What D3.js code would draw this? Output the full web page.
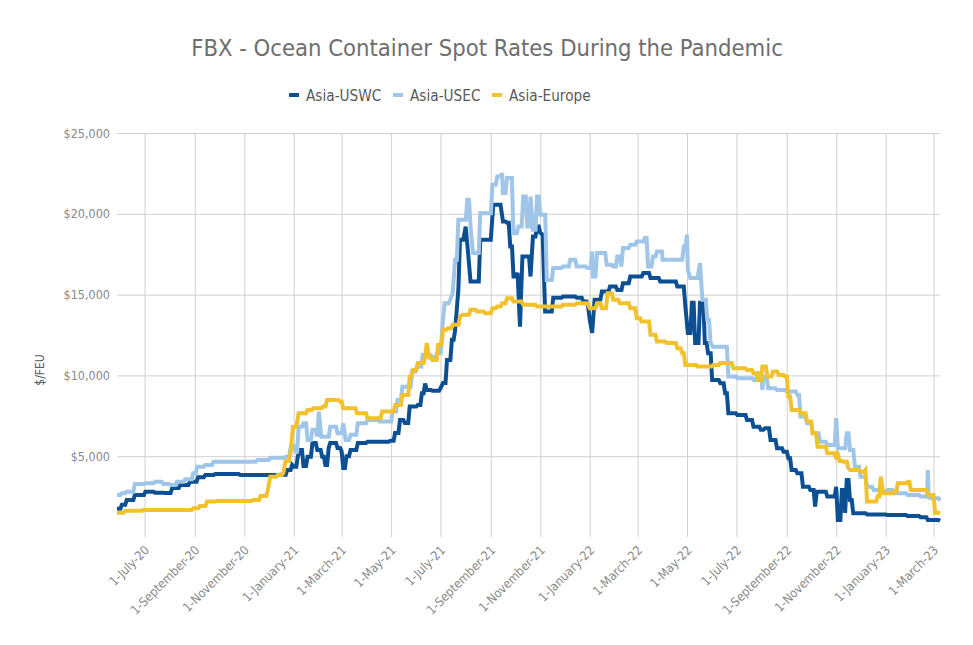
<!DOCTYPE html>
<html><head><meta charset="utf-8">
<script src="https://cdn.jsdelivr.net/npm/d3@7"></script>
<style>
body{margin:0;background:#fff;}
text{font-family:"DejaVu Sans Condensed","DejaVu Sans",sans-serif;font-stretch:condensed;}
</style></head>
<body><svg id="c" width="973" height="645"></svg>
<script>
const title = "FBX - Ocean Container Spot Rates During the Pandemic";
const seriesNames = ["Asia-USWC","Asia-USEC","Asia-Europe"];
const seriesColors = ["#0d4f93","#9fc5e8","#f2c12e"];
const yTicks = [5000,10000,15000,20000,25000];
const xTickDates = ["2020-07-01","2020-09-01","2020-11-01","2021-01-01","2021-03-01","2021-05-01","2021-07-01","2021-09-01","2021-11-01","2022-01-01","2022-03-01","2022-05-01","2022-07-01","2022-09-01","2022-11-01","2023-01-01","2023-03-01"];

const uswcDates = ["2020-05-28","2020-06-03","2020-06-09","2020-06-19","2020-07-02","2020-07-14","2020-07-26","2020-08-04","2020-08-14","2020-08-26","2020-09-05","2020-09-14","2020-09-26","2020-10-27","2020-12-15","2020-12-24","2020-12-30","2021-01-01","2021-01-06","2021-01-09","2021-01-13","2021-01-18","2021-01-24","2021-01-30","2021-02-05","2021-02-09","2021-02-13","2021-02-15","2021-02-24","2021-03-01","2021-03-03","2021-03-07","2021-03-12","2021-03-21","2021-04-02","2021-04-30","2021-05-06","2021-05-12","2021-05-18","2021-05-24","2021-06-03","2021-06-08","2021-06-12","2021-06-14","2021-06-21","2021-07-01","2021-07-04","2021-07-09","2021-07-15","2021-07-19","2021-07-21","2021-07-23","2021-07-25","2021-07-29","2021-08-01","2021-08-04","2021-08-07","2021-08-15","2021-08-19","2021-09-01","2021-09-04","2021-09-13","2021-09-16","2021-09-21","2021-09-25","2021-09-29","2021-10-04","2021-10-07","2021-10-10","2021-10-16","2021-10-20","2021-10-23","2021-10-28","2021-11-01","2021-11-04","2021-11-07","2021-11-13","2021-11-17","2021-11-29","2021-12-16","2021-12-24","2021-12-30","2022-01-01","2022-01-04","2022-01-07","2022-01-16","2022-01-26","2022-02-04","2022-02-11","2022-02-20","2022-03-08","2022-03-17","2022-03-29","2022-04-10","2022-04-19","2022-04-27","2022-04-29","2022-05-02","2022-05-07","2022-05-11","2022-05-17","2022-05-23","2022-05-27","2022-06-01","2022-06-11","2022-06-17","2022-06-21","2022-07-02","2022-07-14","2022-07-22","2022-07-31","2022-08-05","2022-08-12","2022-08-20","2022-08-28","2022-09-03","2022-09-07","2022-09-14","2022-09-21","2022-09-30","2022-10-06","2022-10-08","2022-10-16","2022-10-21","2022-10-28","2022-11-01","2022-11-03","2022-11-08","2022-11-12","2022-11-14","2022-11-18","2022-11-22","2022-12-09","2023-01-03","2023-01-28","2023-02-13","2023-02-22","2023-03-09"];
const uswcValues = [1750,2000,2290,2600,2800,2740,2720,3030,3220,3420,3700,3840,3900,3840,3850,4150,4460,4350,5000,5390,4400,4970,5820,5390,4970,4460,5500,5820,5510,5300,4270,5000,5390,5820,5900,5950,6440,7240,7060,8070,8170,8900,9500,9100,9050,9200,9530,10960,12200,12800,14060,15300,18390,18390,19210,17580,15810,15810,18390,18390,20560,20560,19520,19440,17980,16120,16350,13020,17360,17360,16120,18600,19210,18820,18700,13950,13950,14800,14880,14800,14570,14260,13440,12630,14680,15190,15500,15290,15710,16120,16330,16020,15810,15810,15500,15500,14260,12630,14490,12010,14490,12000,11370,9720,9520,8900,7660,7550,7240,6830,6630,6730,6010,5490,5280,4870,4150,3940,3110,2910,1880,2800,2800,2500,2500,3110,1050,2910,1490,3530,2290,1470,1400,1360,1300,1220,1050,990];

const usecDates = ["2020-05-28","2020-06-03","2020-06-09","2020-06-19","2020-07-02","2020-07-14","2020-07-24","2020-08-02","2020-08-10","2020-08-20","2020-08-30","2020-09-04","2020-09-14","2020-09-24","2020-10-27","2020-11-17","2020-12-03","2020-12-22","2020-12-28","2021-01-01","2021-01-03","2021-01-07","2021-01-13","2021-01-18","2021-01-24","2021-01-30","2021-02-01","2021-02-04","2021-02-15","2021-02-24","2021-03-03","2021-03-06","2021-03-12","2021-03-21","2021-04-02","2021-04-17","2021-04-26","2021-05-03","2021-05-09","2021-05-15","2021-05-27","2021-06-02","2021-06-09","2021-06-20","2021-06-27","2021-07-03","2021-07-06","2021-07-13","2021-07-16","2021-07-19","2021-07-23","2021-07-29","2021-08-03","2021-08-07","2021-08-10","2021-08-15","2021-08-19","2021-08-29","2021-09-03","2021-09-09","2021-09-15","2021-09-16","2021-09-21","2021-09-27","2021-09-29","2021-10-05","2021-10-11","2021-10-16","2021-10-20","2021-10-23","2021-10-28","2021-11-01","2021-11-04","2021-11-09","2021-11-17","2021-11-29","2021-12-08","2021-12-16","2021-12-29","2022-01-04","2022-01-05","2022-01-10","2022-01-17","2022-01-22","2022-01-30","2022-02-04","2022-02-09","2022-02-11","2022-02-20","2022-02-28","2022-03-10","2022-03-14","2022-03-20","2022-03-25","2022-03-31","2022-04-01","2022-04-22","2022-04-27","2022-05-01","2022-05-02","2022-05-05","2022-05-14","2022-05-17","2022-05-20","2022-05-26","2022-05-30","2022-06-02","2022-06-15","2022-06-21","2022-07-02","2022-07-14","2022-07-22","2022-07-27","2022-08-02","2022-08-03","2022-08-09","2022-08-20","2022-09-01","2022-09-14","2022-09-18","2022-09-26","2022-10-03","2022-10-12","2022-10-21","2022-10-28","2022-11-01","2022-11-03","2022-11-10","2022-11-14","2022-11-18","2022-11-24","2022-12-01","2022-12-09","2022-12-17","2022-12-26","2023-01-03","2023-01-11","2023-01-28","2023-02-13","2023-02-21","2023-02-22","2023-02-23","2023-02-26","2023-03-09"];
const usecValues = [2600,2700,2800,3280,3320,3420,3280,3220,3420,3570,3940,4350,4460,4660,4660,4770,4910,4970,5490,5590,5280,6830,7040,6010,6630,6210,7760,6210,6830,6420,7040,6000,6320,7040,7240,7140,7140,7760,8480,9300,10240,10550,11270,11160,11370,12820,14470,14680,15090,17150,19630,19630,20870,19210,17570,17570,20040,20040,21800,22310,22520,21280,22210,22210,18800,19210,21070,19210,21070,19010,21070,19940,19940,15910,16640,16740,17150,16740,16640,17670,16120,17570,17570,16840,16740,17360,16740,17880,18080,18290,18500,16740,17360,17670,17670,17150,17150,17980,18700,16530,16020,16020,16950,14680,13440,12000,11780,11780,9930,9830,9830,9720,10140,9100,9930,9210,9100,9000,8790,7450,7040,6420,5900,5700,5700,7350,5490,5490,6420,5390,4350,3730,3110,2910,2800,2910,2710,2600,2500,2500,4150,2450,2400,2250];

const euDates = ["2020-05-28","2020-06-07","2020-06-30","2020-08-14","2020-08-30","2020-09-07","2020-09-16","2020-09-28","2020-10-31","2020-11-12","2020-11-21","2020-11-30","2020-12-03","2020-12-12","2020-12-19","2020-12-22","2020-12-28","2020-12-31","2021-01-05","2021-01-07","2021-01-18","2021-01-25","2021-02-06","2021-02-11","2021-02-27","2021-03-03","2021-03-12","2021-03-20","2021-04-02","2021-04-14","2021-04-20","2021-04-28","2021-05-06","2021-05-15","2021-05-24","2021-05-28","2021-06-03","2021-06-12","2021-06-14","2021-06-17","2021-06-21","2021-06-28","2021-07-04","2021-07-10","2021-07-16","2021-07-25","2021-07-28","2021-08-07","2021-08-15","2021-08-25","2021-09-03","2021-09-09","2021-09-15","2021-09-21","2021-09-29","2021-10-11","2021-10-28","2021-11-13","2021-11-29","2021-12-16","2021-12-29","2022-01-01","2022-01-10","2022-01-16","2022-01-23","2022-01-30","2022-02-07","2022-02-20","2022-02-28","2022-03-06","2022-03-12","2022-03-17","2022-03-25","2022-04-06","2022-04-19","2022-04-25","2022-04-29","2022-05-14","2022-06-02","2022-06-11","2022-06-27","2022-07-14","2022-07-22","2022-07-28","2022-08-02","2022-08-08","2022-08-15","2022-08-22","2022-08-30","2022-09-03","2022-09-07","2022-09-18","2022-09-26","2022-10-03","2022-10-09","2022-10-21","2022-10-31","2022-11-02","2022-11-05","2022-11-10","2022-11-16","2022-11-18","2022-12-01","2022-12-07","2022-12-09","2022-12-17","2022-12-22","2022-12-26","2022-12-29","2023-01-11","2023-01-16","2023-01-28","2023-02-01","2023-02-13","2023-02-22","2023-03-01","2023-03-03","2023-03-09"];
const euValues = [1500,1630,1670,1670,1780,1920,2190,2230,2230,2290,2540,2910,3730,3840,3940,4700,5200,6800,7040,7660,7860,7970,8070,8480,8380,7970,7970,7660,7350,7350,7760,7760,8170,8790,9930,10340,10760,11160,12000,11100,10960,11890,12820,12920,13130,13640,13750,14060,13950,13850,14160,14260,14470,14780,14570,14370,14260,14260,14370,14470,14470,14160,14470,14160,15090,14680,14470,14160,13540,13330,13330,12510,12100,12000,11680,11370,10650,10550,10650,10760,10450,10340,10140,9720,10550,9930,10240,10030,9930,8690,7860,7660,7140,6420,5590,5190,5000,5300,4700,4660,4250,4150,4040,4150,2190,2190,2500,3730,2710,2800,3320,3420,2910,2910,2600,2600,1500,1470];

if (uswcDates.length !== uswcValues.length || usecDates.length !== usecValues.length || euDates.length !== euValues.length) {
  throw new Error("length mismatch");
}

const parse = d3.utcParse("%Y-%m-%d");
const series = [
  {name: seriesNames[0], color: seriesColors[0], pts: uswcDates.map((d,i)=>({d:parse(d), v:uswcValues[i]}))},
  {name: seriesNames[1], color: seriesColors[1], pts: usecDates.map((d,i)=>({d:parse(d), v:usecValues[i]}))},
  {name: seriesNames[2], color: seriesColors[2], pts: euDates.map((d,i)=>({d:parse(d), v:euValues[i]}))}
];

const svg = d3.select("#c");
const mLeft = 117, mRight = 940, mTop = 133, mBottom = 537;
const x = d3.scaleUtc().domain([parse("2020-05-28"), parse("2023-03-09")]).range([mLeft, mRight]);
const y = d3.scaleLinear().domain([0, 25000]).range([mBottom, mTop]);

// title
svg.append("text").attr("x", 487).attr("y", 56).attr("text-anchor","middle")
  .attr("font-size", 23.6).attr("fill","#6e6e6e").text(title);

// legend
const legendX = [289, 393, 492];
series.forEach((s,i)=>{
  const g = svg.append("g").attr("transform",`translate(${legendX[i]},95)`);
  g.append("line").attr("x1",0).attr("x2",10).attr("y1",0).attr("y2",0).attr("stroke",s.color).attr("stroke-width",4);
  g.append("text").attr("x",17).attr("y",5.5).attr("font-size",15.2).attr("fill","#595959").text(s.name);
});

// y grid + labels
const yAxis = d3.axisLeft(y).tickValues(yTicks).tickSize(-(mRight-mLeft)).tickPadding(6)
  .tickFormat(d=>"$"+d3.format(",")(d));
const yg = svg.append("g").attr("transform",`translate(${mLeft},0)`).call(yAxis);
yg.select(".domain").remove();
yg.selectAll(".tick line").attr("stroke","#d0d0d0");
yg.selectAll(".tick text").attr("font-size",12.5).attr("fill","#8a8a8a").attr("dx",-1);

// x grid + labels
const xAxis = d3.axisBottom(x).tickValues(xTickDates.map(parse)).tickSize(-(mBottom-mTop)).tickPadding(0)
  .tickFormat(d3.utcFormat("1-%B-%y"));
const xg = svg.append("g").attr("transform",`translate(0,${mBottom})`).call(xAxis);
xg.select(".domain").remove();
xg.selectAll(".tick line").attr("stroke","#d0d0d0");
xg.selectAll(".tick text").attr("font-size",12.5).attr("fill","#8a8a8a")
  .attr("text-anchor","end").attr("dy",0).attr("y",0)
  .attr("transform","translate(5,14) rotate(-45)");

// y title
svg.append("text").attr("transform","translate(44,370) rotate(-90)").attr("text-anchor","middle")
  .attr("font-size",12).attr("fill","#595959").text("$/FEU");

// curve: hold level over longer gaps, short ramp into the next reading; short gaps stay linear
function curveRampStep(context) {
  return {
    areaStart(){}, areaEnd(){},
    lineStart(){ this._p = 0; },
    lineEnd(){},
    point(px, py){
      px = +px; py = +py;
      if (!this._p) { context.moveTo(px, py); this._p = 1; }
      else {
        if (px - this._x > 3) context.lineTo(px - 1.5, this._y);
        context.lineTo(px, py);
      }
      this._x = px; this._y = py;
    }
  };
}

// lines
const line = d3.line().curve(curveRampStep).x(p=>x(p.d)).y(p=>y(p.v));
series.forEach(s=>{
  svg.append("path").datum(s.pts).attr("d",line).attr("fill","none")
    .attr("stroke",s.color).attr("stroke-width",4).attr("stroke-linejoin","miter").attr("stroke-miterlimit",3);
});
</script></body></html>
